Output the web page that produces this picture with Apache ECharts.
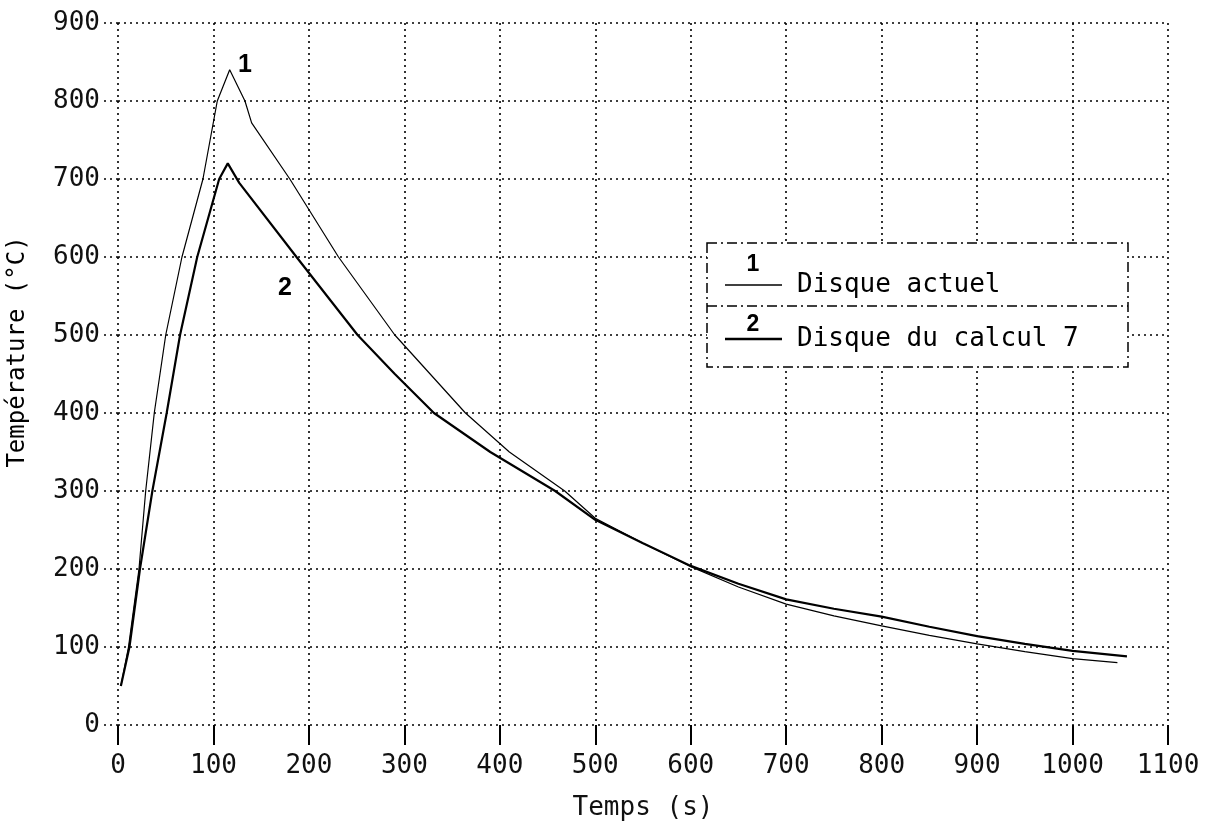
<!DOCTYPE html>
<html>
<head>
<meta charset="utf-8">
<script src="https://cdn.jsdelivr.net/npm/echarts@6/dist/echarts.min.js"></script>
<style>
html,body{margin:0;padding:0;background:#fff;}
#chart{width:1207px;height:829px;}
</style>
</head>
<body>
<div id="chart"></div>
<script>
// ---- data ----
var xTicks = [0, 100, 200, 300, 400, 500, 600, 700, 800, 900, 1000, 1100];
var yTicks = [0, 100, 200, 300, 400, 500, 600, 700, 800, 900];

// Curve 1 : Disque actuel
var time1 = [3, 11, 22, 29, 38, 50, 67, 89, 104, 117, 133, 140, 180, 231, 290, 364, 410, 468, 500, 550, 600, 650, 700, 750, 800, 850, 900, 950, 1000, 1047];
var temp1 = [50, 100, 200, 300, 400, 500, 600, 700, 800, 840, 800, 772, 700, 600, 500, 400, 350, 300, 265, 233, 203, 177, 155, 140, 127, 115, 104, 94, 85, 80];

// Curve 2 : Disque du calcul 7
var time2 = [3, 12, 23, 36, 51, 65, 83, 106, 115, 127, 187, 251, 290, 331, 390, 458, 500, 550, 600, 650, 700, 750, 800, 850, 900, 950, 1000, 1057];
var temp2 = [50, 100, 200, 300, 400, 500, 600, 700, 720, 695, 600, 500, 450, 400, 350, 300, 263, 233, 204, 181, 161, 149, 139, 126, 114, 104, 95, 88];

var seriesNames = ['Disque actuel', 'Disque du calcul 7'];
var seriesTags = ['1', '2'];
var tagPos = [[133, 846], [175, 560]];
var xName = 'Temps (s)';
var yName = 'Température (°C)';

function pairs(t, v) { return t.map(function (x, i) { return [x, v[i]]; }); }

var MONO = 'DejaVu Sans Mono';
var dotted = { color: '#000', width: 1.6, type: [2, 4] };
var dashDot = [10, 4, 2, 4];

var chart = echarts.init(document.getElementById('chart'), null, { renderer: 'canvas' });
var option = {
  animation: false,
  backgroundColor: '#fff',
  grid: { left: 118, right: 39, top: 23, bottom: 104, containLabel: false },
  xAxis: {
    type: 'value', min: xTicks[0], max: xTicks[xTicks.length - 1], interval: 100,
    axisLine: { show: false },
    axisTick: { show: true, length: 20, lineStyle: { color: '#000', width: 2 } },
    splitLine: { show: true, lineStyle: dotted },
    axisLabel: { color: '#111', fontFamily: MONO, fontSize: 26, margin: 28, formatter: function (v) { return String(v); } },
    name: xName, nameLocation: 'middle', nameGap: 70,
    nameTextStyle: { color: '#111', fontFamily: MONO, fontSize: 26 }
  },
  yAxis: {
    type: 'value', min: yTicks[0], max: yTicks[yTicks.length - 1], interval: 100,
    axisLine: { show: false },
    axisTick: { show: true, length: 16, lineStyle: dotted },
    splitLine: { show: true, lineStyle: dotted },
    axisLabel: { color: '#111', fontFamily: MONO, fontSize: 26, margin: 18, formatter: function (v) { return String(v); } }
  },
  series: [
    {
      name: seriesNames[0], type: 'line', data: pairs(time1, temp1), showSymbol: false, symbol: 'none',
      lineStyle: { color: '#000', width: 1.2 }, z: 3
    },
    {
      name: seriesNames[1], type: 'line', data: pairs(time2, temp2), showSymbol: false, symbol: 'none',
      lineStyle: { color: '#000', width: 2.2 }, z: 3
    }
  ]
};
chart.setOption(option);

function txt(x, y, text, size, weight, family, align, rot) {
  return {
    type: 'text', x: x, y: y, rotation: rot || 0, z: 10,
    style: { text: text, fontSize: size, fontWeight: weight, fontFamily: family, fill: '#000',
      align: align, verticalAlign: 'middle' }
  };
}

var g = [
  txt(18, 352, yName, 24, 'normal', MONO, 'center', Math.PI / 2),
  { type: 'rect', z: 5, shape: { x: 707, y: 243, width: 421, height: 124 },
    style: { fill: '#fff', stroke: '#000', lineWidth: 1.5, lineDash: dashDot } },
  { type: 'line', z: 6, shape: { x1: 707, y1: 306, x2: 1128, y2: 306 },
    style: { stroke: '#000', lineWidth: 1.5, lineDash: dashDot } },
  { type: 'line', z: 6, shape: { x1: 725, y1: 285, x2: 782, y2: 285 }, style: { stroke: '#000', lineWidth: 1.3 } },
  { type: 'line', z: 6, shape: { x1: 725, y1: 339, x2: 782, y2: 339 }, style: { stroke: '#000', lineWidth: 2.4 } },
  txt(753, 265, seriesTags[0], 23, 'bold', 'Liberation Sans', 'center'),
  txt(753, 325, seriesTags[1], 23, 'bold', 'Liberation Sans', 'center'),
  txt(797, 285, seriesNames[0], 26, 'normal', MONO, 'left'),
  txt(797, 339, seriesNames[1], 26, 'normal', MONO, 'left')
];
tagPos.forEach(function (p, i) {
  var px = chart.convertToPixel({ gridIndex: 0 }, p);
  g.push(txt(px[0], px[1], seriesTags[i], 25, 'bold', 'Liberation Sans', 'center'));
});
chart.setOption({ graphic: g });
</script>
</body>
</html>
